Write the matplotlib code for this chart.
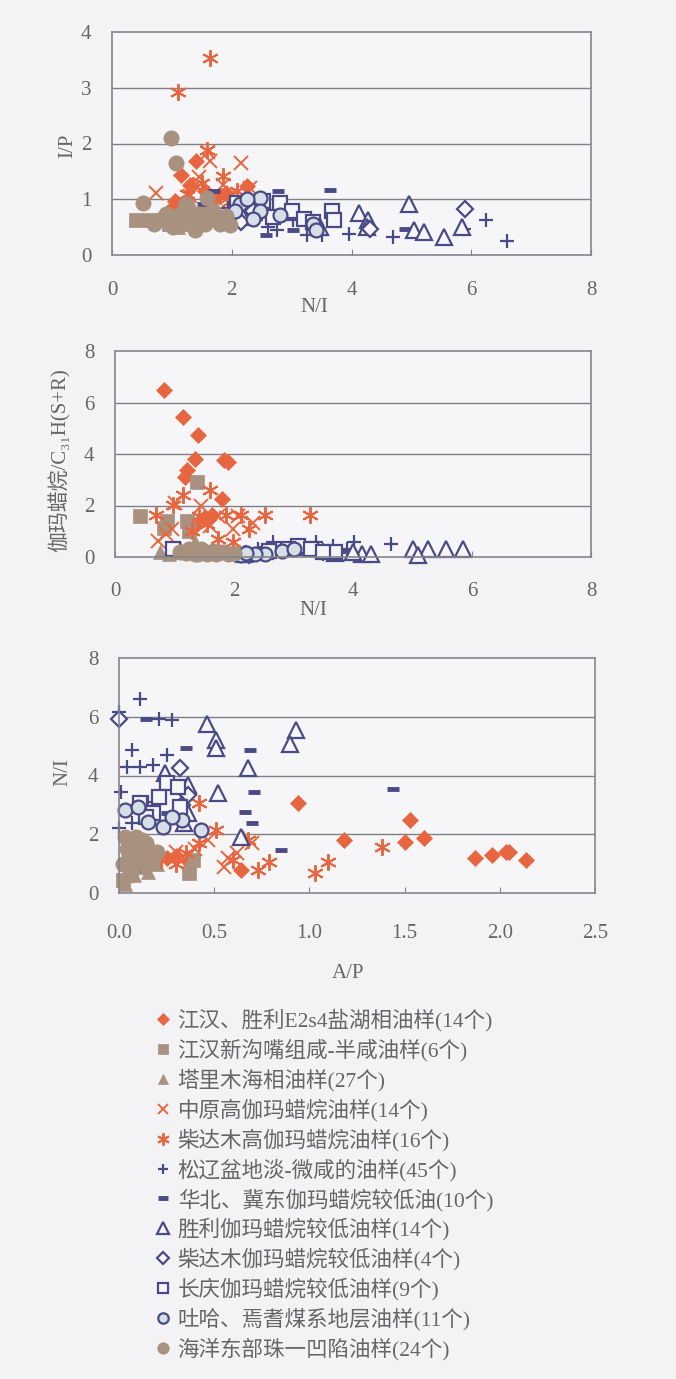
import matplotlib
matplotlib.use('Agg')
import matplotlib.pyplot as plt
from matplotlib.lines import Line2D

plt.rcParams['font.family'] = ['Liberation Serif', 'Noto Sans CJK SC', 'DejaVu Sans']

# ---- series labels ----
labels = ['江汉、胜利E2s4盐湖相油样(14个)', '江汉新沟嘴组咸-半咸油样(6个)', '塔里木海相油样(27个)',
          '中原高伽玛蜡烷油样(14个)', '柴达木高伽玛蜡烷油样(16个)', '松辽盆地淡-微咸的油样(45个)',
          '华北、冀东伽玛蜡烷较低油(10个)', '胜利伽玛蜡烷较低油样(14个)', '柴达木伽玛蜡烷较低油样(4个)',
          '长庆伽玛蜡烷较低油样(9个)', '吐哈、焉耆煤系地层油样(11个)', '海洋东部珠一凹陷油样(24个)']

# ---- panel 1: N/I vs I/P ----
p1_jh_x = [0.96, 1.05, 1.16, 1.30, 1.41, 1.91, 2.25, 1.25, 1.55, 0.85, 1.70]
p1_jh_y = [0.79, 0.97, 1.44, 1.26, 1.68, 1.12, 1.24, 0.85, 1.15, 0.70, 1.00]
p1_xgz_x = [0.40, 0.63, 0.96, 1.18, 1.35, 1.63]
p1_xgz_y = [0.62, 0.62, 0.56, 0.79, 0.56, 0.71]
p1_tlm_x = [1.00, 1.20, 1.40, 1.60, 1.75, 1.10, 1.50, 1.85, 0.90, 1.30]
p1_tlm_y = [0.60, 0.70, 0.55, 0.65, 0.80, 0.50, 0.90, 0.60, 0.75, 0.95]
p1_zy_x = [0.74, 1.63, 2.16, 1.85, 2.30, 1.30, 1.60, 1.95, 1.12, 1.45]
p1_zy_y = [1.12, 1.68, 1.65, 1.26, 1.20, 1.05, 1.85, 1.05, 0.85, 1.40]
p1_cdh_x = [1.63, 1.10, 1.58, 1.85, 1.35, 2.08, 1.80, 1.50, 1.25, 1.95]
p1_cdh_y = [3.53, 2.92, 1.88, 1.41, 1.26, 1.15, 1.06, 1.30, 1.10, 0.95]
p1_sl_x = [1.94, 2.75, 3.25, 3.50, 3.95, 4.70, 5.88, 6.24, 6.60, 2.41, 2.13, 3.03, 3.42, 2.60]
p1_sl_y = [0.85, 0.44, 0.35, 0.35, 0.38, 0.32, 0.47, 0.62, 0.26, 0.62, 0.74, 0.62, 0.50, 0.50]
p1_hb_x = [3.64, 2.78, 1.71, 1.52, 0.90, 4.90, 2.58, 3.03]
p1_hb_y = [1.16, 1.15, 1.15, 0.91, 0.62, 0.47, 0.35, 0.44]
p1_shl_x = [4.96, 4.12, 4.28, 5.04, 5.21, 5.54, 5.85, 3.47, 4.26, 2.19]
p1_shl_y = [0.91, 0.76, 0.62, 0.44, 0.41, 0.32, 0.50, 0.50, 0.50, 0.68]
p1_cdl_x = [5.90, 4.31, 2.16, 2.36]
p1_cdl_y = [0.82, 0.47, 0.59, 0.79]
p1_cq_x = [2.08, 2.52, 2.80, 3.00, 3.20, 3.67, 3.70, 2.69, 3.36]
p1_cq_y = [0.94, 0.97, 0.94, 0.79, 0.65, 0.79, 0.62, 0.68, 0.59]
p1_th_x = [2.13, 2.47, 2.47, 2.80, 2.36, 3.36, 2.05, 2.25, 3.40]
p1_th_y = [0.91, 1.03, 0.79, 0.71, 0.65, 0.56, 0.79, 1.00, 0.45]
p1_zj_x = [0.99, 1.07, 0.51, 0.90, 1.18, 1.46, 1.58, 1.80, 1.97, 1.38, 1.02, 1.69, 1.24, 0.79, 1.30, 1.55, 1.70, 1.12, 0.70, 1.90]
p1_zj_y = [2.09, 1.65, 0.94, 0.74, 0.56, 0.74, 1.03, 0.56, 0.53, 0.44, 0.50, 0.79, 0.91, 0.62, 0.70, 0.55, 0.65, 0.72, 0.55, 0.70]

# ---- panel 2: N/I vs gammacerane/C31H ----
p2_jh_x = [0.82, 1.14, 1.39, 1.34, 1.18, 1.21, 1.83, 1.90, 1.80, 1.63, 1.34, 1.50]
p2_jh_y = [6.48, 5.42, 4.74, 3.81, 3.11, 3.37, 3.77, 3.68, 2.25, 1.65, 1.21, 1.50]
p2_xgz_x = [0.42, 0.88, 0.82, 1.21, 1.37, 1.25]
p2_xgz_y = [1.59, 1.40, 1.14, 1.40, 2.92, 1.00]
p2_tlm_x = [0.75, 1.34, 1.99, 1.00, 1.20, 1.50, 1.70, 1.10, 1.85, 0.90]
p2_tlm_y = [0.19, 0.57, 0.13, 0.20, 0.25, 0.15, 0.20, 0.35, 0.25, 0.10]
p2_zy_x = [0.72, 1.01, 0.95, 1.73, 2.06, 2.32, 1.99, 1.45, 1.60, 0.85]
p2_zy_y = [0.63, 2.10, 1.08, 1.59, 1.59, 1.33, 1.08, 2.00, 1.20, 0.90]
p2_cdh_x = [0.69, 1.14, 1.60, 1.86, 2.12, 2.52, 3.27, 0.98, 1.41, 2.25, 1.99, 1.73, 1.30, 1.55]
p2_cdh_y = [1.65, 2.41, 2.60, 1.65, 1.65, 1.65, 1.65, 2.03, 1.59, 1.08, 0.57, 0.70, 1.00, 1.30]
p2_sl_x = [4.64, 3.37, 2.65, 4.02, 3.66, 2.40, 3.00, 3.90]
p2_sl_y = [0.51, 0.57, 0.57, 0.57, 0.44, 0.30, 0.35, 0.30]
p2_hb_x = [3.35, 3.90, 2.50, 3.10]
p2_hb_y = [0.30, 0.25, 0.35, 0.15]
p2_shl_x = [5.00, 5.26, 5.56, 5.85, 5.10, 4.15, 4.31, 2.16, 4.00, 3.70]
p2_shl_y = [0.32, 0.32, 0.32, 0.32, 0.06, 0.13, 0.13, 0.13, 0.20, 0.15]
p2_cdl_x = [2.25, 2.65, 2.20, 3.50]
p2_cdl_y = [0.06, 0.25, 0.10, 0.20]
p2_cq_x = [0.98, 3.07, 2.58, 3.69, 3.30, 2.90, 3.50]
p2_cq_y = [0.32, 0.44, 0.25, 0.19, 0.32, 0.30, 0.20]
p2_th_x = [2.12, 2.52, 2.81, 2.35, 3.00, 2.20]
p2_th_y = [0.06, 0.13, 0.25, 0.10, 0.30, 0.15]
p2_zj_x = [1.10, 1.20, 1.30, 1.40, 1.50, 1.60, 1.70, 1.80, 1.90, 2.00, 1.25, 1.45, 1.65, 1.35, 1.55]
p2_zj_y = [0.20, 0.15, 0.25, 0.10, 0.20, 0.15, 0.10, 0.20, 0.10, 0.15, 0.30, 0.30, 0.25, 0.10, 0.10]

# ---- panel 3: A/P vs N/I ----
p3_jh_x = [0.94, 1.53, 1.50, 1.60, 1.18, 1.87, 1.96, 2.03, 2.05, 2.14, 0.64, 0.25, 0.30, 0.36, 0.20]
p3_jh_y = [3.05, 2.49, 1.75, 1.86, 1.81, 1.19, 1.30, 1.41, 1.41, 1.13, 0.79, 1.20, 1.25, 1.10, 1.15]
p3_xgz_x = [0.02, 0.05, 0.10, 0.37, 0.39, 0.15]
p3_xgz_y = [0.45, 1.00, 1.60, 0.68, 1.13, 1.30]
p3_tlm_x = [0.65, 0.03, 0.08, 0.12, 0.06, 0.15, 0.20, 0.10, 0.04]
p3_tlm_y = [1.92, 0.30, 0.60, 0.90, 1.30, 0.70, 1.00, 1.50, 1.80]
p3_zy_x = [0.57, 0.47, 0.70, 0.40, 0.55, 0.30, 0.62]
p3_zy_y = [1.19, 1.81, 1.69, 1.50, 0.90, 1.40, 1.35]
p3_cdh_x = [0.42, 1.38, 1.10, 1.03, 0.79, 0.73, 0.60, 0.51, 0.68, 0.22, 0.42, 0.35, 0.30]
p3_cdh_y = [3.05, 1.58, 1.07, 0.68, 1.07, 0.79, 1.13, 2.15, 1.81, 1.13, 1.69, 1.36, 1.00]
p3_sl_x = [0.11, 0.00, 0.21, 0.28, 0.07, 0.25, 0.04, 0.11, 0.18, 0.01, 0.00, 0.07, 0.15]
p3_sl_y = [6.61, 6.16, 5.93, 5.88, 4.86, 4.69, 4.29, 4.29, 4.35, 3.45, 2.20, 2.37, 3.10]
p3_hb_x = [0.35, 0.69, 0.71, 0.66, 0.70, 0.85, 1.44, 0.25, 0.14, 0.08]
p3_hb_y = [4.92, 4.86, 3.45, 2.77, 2.37, 1.47, 3.53, 2.71, 5.93, 0.80]
p3_shl_x = [0.46, 0.51, 0.51, 0.93, 0.90, 0.68, 0.52, 0.24, 0.36, 0.36, 0.64, 0.34]
p3_shl_y = [5.76, 5.20, 4.92, 5.54, 5.08, 4.24, 3.39, 4.07, 3.67, 2.71, 1.92, 2.40]
p3_cdl_x = [0.00, 0.32, 0.36, 0.33]
p3_cdl_y = [5.93, 4.24, 3.33, 3.00]
p3_cq_x = [0.25, 0.31, 0.21, 0.11, 0.18, 0.32, 0.14]
p3_cq_y = [3.73, 3.62, 3.28, 3.05, 2.71, 2.94, 2.60]
p3_th_x = [0.03, 0.15, 0.33, 0.43, 0.23, 0.10, 0.28]
p3_th_y = [2.82, 2.43, 2.49, 2.15, 2.26, 2.94, 2.60]
p3_zj_x = [0.02, 0.05, 0.08, 0.12, 0.15, 0.18, 0.03, 0.07, 0.11, 0.14, 0.20, 0.04, 0.09, 0.06, 0.16]
p3_zj_y = [1.00, 1.30, 1.60, 1.80, 1.50, 1.20, 1.90, 0.80, 1.10, 1.70, 1.40, 1.50, 1.90, 0.60, 1.00]

ORANGE = '#E8663F'
BROWN = '#A8917F'
NAVY = '#4A4A86'
BG = '#F3F3F5'
PALE = '#F6F6F8'
TXT = '#666666'

# marker styles per series (same order as labels)
styles = [
    dict(marker='D', ms=8.5, mfc=ORANGE, mec=ORANGE, mew=0.5),
    dict(marker='s', ms=9.5, mfc=BROWN, mec=BROWN, mew=0.5),
    dict(marker='^', ms=10, mfc=BROWN, mec=BROWN, mew=0.5),
    dict(marker='x', ms=9.5, mfc=ORANGE, mec=ORANGE, mew=1.4),
    dict(marker=(6, 2, 0), ms=12, mfc=ORANGE, mec=ORANGE, mew=1.4),
    dict(marker='+', ms=10, mfc=NAVY, mec=NAVY, mew=1.6),
    dict(marker='_', ms=9, mfc=NAVY, mec=NAVY, mew=3.5),
    dict(marker='^', ms=11, mfc=PALE, mec=NAVY, mew=1.6),
    dict(marker='D', ms=8, mfc=PALE, mec=NAVY, mew=1.6),
    dict(marker='s', ms=10, mfc=PALE, mec=NAVY, mew=1.6),
    dict(marker='o', ms=10, mfc='#D6DEE6', mec=NAVY, mew=1.6),
    dict(marker='o', ms=11, mfc=BROWN, mec=BROWN, mew=0.5),
]

panel1 = [(p1_jh_x, p1_jh_y), (p1_xgz_x, p1_xgz_y), (p1_tlm_x, p1_tlm_y), (p1_zy_x, p1_zy_y),
          (p1_cdh_x, p1_cdh_y), (p1_sl_x, p1_sl_y), (p1_hb_x, p1_hb_y), (p1_shl_x, p1_shl_y),
          (p1_cdl_x, p1_cdl_y), (p1_cq_x, p1_cq_y), (p1_th_x, p1_th_y), (p1_zj_x, p1_zj_y)]
panel2 = [(p2_jh_x, p2_jh_y), (p2_xgz_x, p2_xgz_y), (p2_tlm_x, p2_tlm_y), (p2_zy_x, p2_zy_y),
          (p2_cdh_x, p2_cdh_y), (p2_sl_x, p2_sl_y), (p2_hb_x, p2_hb_y), (p2_shl_x, p2_shl_y),
          (p2_cdl_x, p2_cdl_y), (p2_cq_x, p2_cq_y), (p2_th_x, p2_th_y), (p2_zj_x, p2_zj_y)]
panel3 = [(p3_jh_x, p3_jh_y), (p3_xgz_x, p3_xgz_y), (p3_tlm_x, p3_tlm_y), (p3_zy_x, p3_zy_y),
          (p3_cdh_x, p3_cdh_y), (p3_sl_x, p3_sl_y), (p3_hb_x, p3_hb_y), (p3_shl_x, p3_shl_y),
          (p3_cdl_x, p3_cdl_y), (p3_cq_x, p3_cq_y), (p3_th_x, p3_th_y), (p3_zj_x, p3_zj_y)]

fig = plt.figure(figsize=(6.76, 13.79), dpi=100, facecolor=BG)

W, H = 676, 1379


def make_axes(l, r, t, b):
    return fig.add_axes([l / W, 1 - b / H, (r - l) / W, (b - t) / H])


def style_axes(ax, xlim, ylim, xticks, yticks, grid, xfmt='%g', xpad=22):
    ax.set_facecolor(PALE)
    ax.set_xlim(*xlim)
    ax.set_ylim(*ylim)
    ax.set_xticks(xticks)
    ax.set_xticklabels([xfmt % v for v in xticks])
    ax.set_yticks(yticks)
    ax.set_yticklabels(['%g' % v for v in yticks])
    for g in grid:
        ax.axhline(g, color='#7F7F86', lw=1.0, zorder=0)
    for s in ax.spines.values():
        s.set_color('#85858C')
        s.set_linewidth(1.2)
    ax.tick_params(axis='x', direction='in', length=4, color='#85858C', pad=xpad,
                   labelsize=15, labelcolor=TXT)
    ax.tick_params(axis='y', length=0, pad=15, labelsize=15, labelcolor=TXT)


def draw(ax, data):
    for (xs, ys), st in zip(data, styles):
        ax.plot(xs, ys, ls='none', clip_on=False, **st)


ax1 = make_axes(112, 591, 32, 255)
style_axes(ax1, (0, 8), (0, 4), [0, 2, 4, 6, 8], [0, 1, 2, 3, 4], [1, 2, 3], xpad=19)
draw(ax1, panel1)
fig.text(314 / W, 1 - 307 / H, 'N/I', ha='center', va='center', fontsize=15, color=TXT)
fig.text(68 / W, 1 - 146 / H, 'I/P', ha='center', va='center', fontsize=15, color=TXT, rotation=90)

ax2 = make_axes(115, 591, 351, 557)
style_axes(ax2, (0, 8), (0, 8), [0, 2, 4, 6, 8], [0, 2, 4, 6, 8], [2, 4, 6], xpad=18)
draw(ax2, panel2)
fig.text(313 / W, 1 - 610 / H, 'N/I', ha='center', va='center', fontsize=15, color=TXT)
fig.text(60 / W, 1 - 460 / H, '伽玛蜡烷/C₃₁H(S+R)', ha='center', va='center',
         fontsize=15, color=TXT, rotation=90)

ax3 = make_axes(119, 595, 658, 893)
style_axes(ax3, (0, 2.5), (0, 8), [0, 0.5, 1.0, 1.5, 2.0, 2.5], [0, 2, 4, 6, 8], [2, 4, 6], xfmt='%.1f')
draw(ax3, panel3)
fig.text(348 / W, 1 - 973 / H, 'A/P', ha='center', va='center', fontsize=15, color=TXT)
fig.text(63 / W, 1 - 772 / H, 'N/I', ha='center', va='center', fontsize=15, color=TXT, rotation=90)

handles = []
for st in styles:
    st2 = dict(st)
    st2['ms'] = st['ms'] * 0.75
    handles.append(Line2D([], [], ls='none', **st2))
leg = fig.legend(handles, labels, loc='upper left', bbox_to_anchor=(155 / W, 1 - 1009 / H),
                 frameon=False, fontsize=15.5, handlelength=0.7, handletextpad=0.35,
                 labelspacing=0.33, borderpad=0, borderaxespad=0)
for t in leg.get_texts():
    t.set_color(TXT)

fig.savefig('out.png', dpi=100, facecolor=BG)
